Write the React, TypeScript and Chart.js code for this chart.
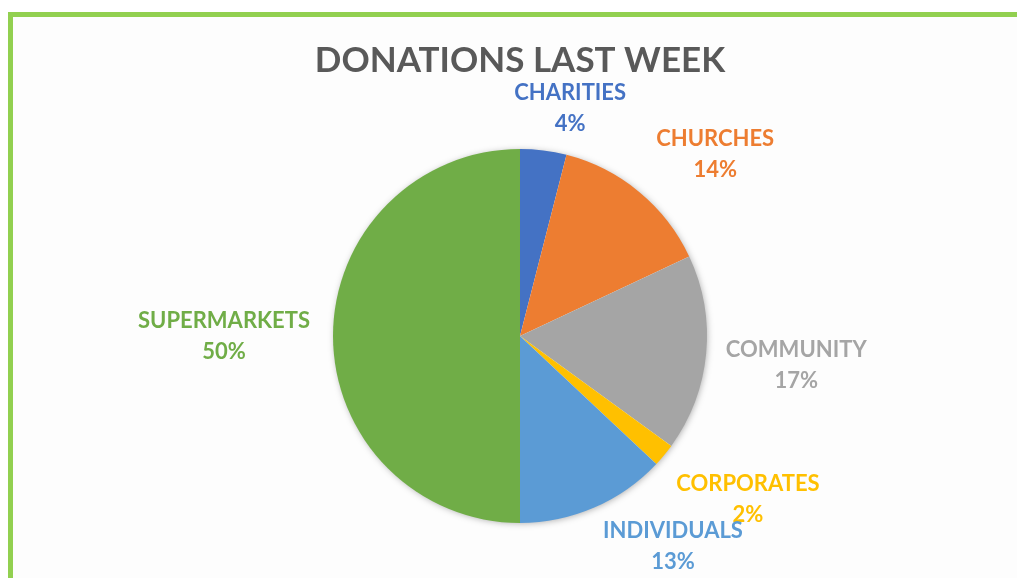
import React, { useEffect, useRef } from "react";
import { Chart, registerables } from "chart.js";

Chart.register(...registerables);

const categories = ["CHARITIES", "CHURCHES", "COMMUNITY", "CORPORATES", "INDIVIDUALS", "SUPERMARKETS"];
const shares = [4, 14, 17, 2, 13, 50];
const sliceColors = ["#4472c4", "#ed7d31", "#a5a5a5", "#ffc000", "#5b9bd5", "#70ad47"];
const chartTitle = "DONATIONS LAST WEEK";

// label placement tweaks mimicking Excel's best-fit labels
const labelNudges = [5.2, 7.4, 0.6, -4, -12.6, 0]; // degrees, clockwise
const labelRadialShift = [-7, 3, 2, 4, -5, 7]; // px

const FONT = "Lato, 'Open Sans', sans-serif";

const shadowPlugin = {
  id: "pieShadow",
  beforeDatasetsDraw(chart: any) {
    const meta = chart.getDatasetMeta(0);
    const arc = meta.data[0];
    if (!arc) return;
    const { x, y, outerRadius } = arc.getProps(["x", "y", "outerRadius"], true);
    const ctx = chart.ctx;
    ctx.save();
    ctx.shadowColor = "rgba(0,0,0,0.35)";
    ctx.shadowBlur = 7;
    ctx.shadowOffsetX = 1;
    ctx.shadowOffsetY = 1;
    ctx.fillStyle = "#ffffff";
    ctx.beginPath();
    ctx.arc(x, y, outerRadius - 1, 0, Math.PI * 2);
    ctx.fill();
    ctx.restore();
  },
};

const labelPlugin = {
  id: "outsideLabels",
  afterDatasetsDraw(chart: any) {
    const meta = chart.getDatasetMeta(0);
    const ds = chart.data.datasets[0];
    const values: number[] = ds.data as number[];
    const total = values.reduce((a, b) => a + b, 0);
    const ctx = chart.ctx;
    ctx.save();
    ctx.font = `bold 22px ${FONT}`;
    ctx.textAlign = "center";
    ctx.textBaseline = "middle";
    const lineGap = 31;
    meta.data.forEach((arc: any, i: number) => {
      const { x, y, startAngle, endAngle, outerRadius } = arc.getProps(
        ["x", "y", "startAngle", "endAngle", "outerRadius"],
        true
      );
      const a = (startAngle + endAngle) / 2 + (labelNudges[i] * Math.PI) / 180;
      const name = chart.data.labels[i] as string;
      const pct = Math.round((values[i] / total) * 100) + "%";
      const w = Math.max(ctx.measureText(name).width, ctx.measureText(pct).width);
      const halfW = w / 2;
      const halfH = 26;
      const dist =
        outerRadius + 16 + Math.abs(Math.cos(a)) * halfW + Math.abs(Math.sin(a)) * halfH + labelRadialShift[i];
      const cx = x + Math.cos(a) * dist;
      const cy = y + Math.sin(a) * dist;
      ctx.fillStyle = sliceColors[i];
      ctx.fillText(name, cx, cy - lineGap / 2);
      ctx.fillText(pct, cx, cy + lineGap / 2);
    });
    ctx.restore();
  },
};

export default function App() {
  const ref = useRef<HTMLCanvasElement | null>(null);

  useEffect(() => {
    if (!ref.current) return;
    const chart = new Chart(ref.current, {
      type: "pie",
      data: {
        labels: categories,
        datasets: [
          {
            data: shares,
            backgroundColor: sliceColors,
            borderWidth: 0,
          },
        ],
      },
      options: {
        animation: false,
        responsive: false,
        maintainAspectRatio: false,
        layout: { padding: { left: 100, right: 77, top: 0, bottom: 55 } },
        plugins: {
          legend: { display: false },
          tooltip: { enabled: false },
          title: {
            display: true,
            text: chartTitle,
            color: "#595959",
            font: { family: FONT, size: 35, weight: "bold" },
            padding: { top: 40, bottom: 67 },
          },
        },
      },
      plugins: [shadowPlugin, labelPlugin],
    });
    return () => chart.destroy();
  }, []);

  return (
    <div style={{ position: "fixed", left: 0, top: 0, width: 1017, height: 578, overflow: "hidden", background: "#ffffff" }}>
      <div
        style={{
          position: "absolute",
          left: 8,
          top: 12,
          width: 1100,
          height: 700,
          border: "5px solid #92d050",
          background: "#fdfdfd",
        }}
      />
      <canvas ref={ref} width={1017} height={578} style={{ position: "absolute", left: 0, top: 0, width: 1017, height: 578 }} />
    </div>
  );
}
